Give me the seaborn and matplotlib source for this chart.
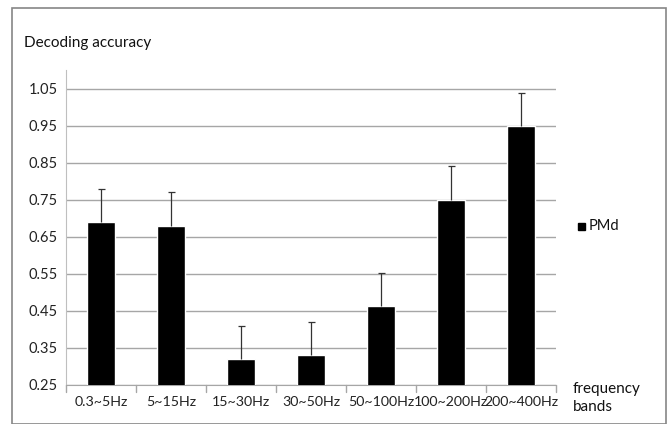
import numpy as np
import pandas as pd
import seaborn as sns
import matplotlib.pyplot as plt
from matplotlib.patches import Rectangle

# data
bands = ['0.3~5Hz', '5~15Hz', '15~30Hz', '30~50Hz', '50~100Hz', '100~200Hz', '200~400Hz']
accuracy = [0.69, 0.68, 0.32, 0.33, 0.463, 0.75, 0.95]
err_up = [0.09, 0.09, 0.09, 0.09, 0.09, 0.09, 0.088]
yticks = [0.25, 0.35, 0.45, 0.55, 0.65, 0.75, 0.85, 0.95, 1.05]

df = pd.DataFrame({'band': bands, 'acc': accuracy})
df['top'] = df['acc'] + np.array(err_up)

sns.set_style('white')
plt.rcParams['font.family'] = ['Lato', 'DejaVu Sans']

fig = plt.figure(figsize=(6.68, 4.24), dpi=100)
ax = fig.add_axes([66 / 668, 1 - 385 / 424, (556 - 66) / 668, (385 - 70) / 424])

sns.barplot(data=df, x='band', y='acc', color='black', width=0.4,
            saturation=1, ax=ax, zorder=3)

# one-sided error bars (cap only at the top)
xpos = np.arange(len(bands))
ax.vlines(xpos, df['acc'], df['top'], color='#333333', lw=0.9, zorder=4)
ax.hlines(df['top'], xpos - 0.05, xpos + 0.05, color='#333333', lw=0.9, zorder=4)

ax.set_ylim(0.25, 1.10)
ax.set_xlim(-0.5, len(bands) - 0.5)
ax.set_yticks(yticks)
ax.set_yticklabels([f'{v:.2f}' for v in yticks])
ax.yaxis.grid(True, color='#a6a6a6', linewidth=1, zorder=0)
ax.set_xlabel('')
ax.set_ylabel('')

for s in ['top', 'right']:
    ax.spines[s].set_visible(False)
ax.spines['left'].set_color('#bfbfbf')
ax.spines['bottom'].set_color('#a6a6a6')
ax.spines['left'].set_bounds(0.25, 1.10)

# x ticks between categories, like the original
ax.set_xticks(xpos)
ax.set_xticklabels(bands)
ax.tick_params(axis='x', length=0, pad=8, labelsize=10.2, labelcolor='#222222')
ax.tick_params(axis='y', length=0, pad=6, labelsize=10.5, labelcolor='#222222')
for b in np.arange(-0.5, len(bands), 1.0):
    ax.plot([b, b], [0.25, 0.23], color='#a6a6a6', lw=1, clip_on=False)

# outer frame
fig.patches.append(Rectangle((12 / 668, 0), 654 / 668, 1 - 8 / 424,
                             transform=fig.transFigure, fill=False,
                             edgecolor='#868686', lw=1.2))

fig.text(24 / 668, 1 - 43 / 424, 'Decoding accuracy', fontsize=11,
         va='center', ha='left', color='#111111')
fig.text(573 / 668, 1 - 398 / 424, 'frequency\nbands', fontsize=11,
         va='center', ha='left', color='#111111', linespacing=1.3)

# legend
fig.patches.append(Rectangle((578 / 668, 1 - 230 / 424), 7 / 668, 7 / 424,
                             transform=fig.transFigure, color='black'))
fig.text(589 / 668, 1 - 226 / 424, 'PMd', fontsize=10.5, va='center',
         ha='left', color='#111111')

fig.savefig('out.png', dpi=100)
